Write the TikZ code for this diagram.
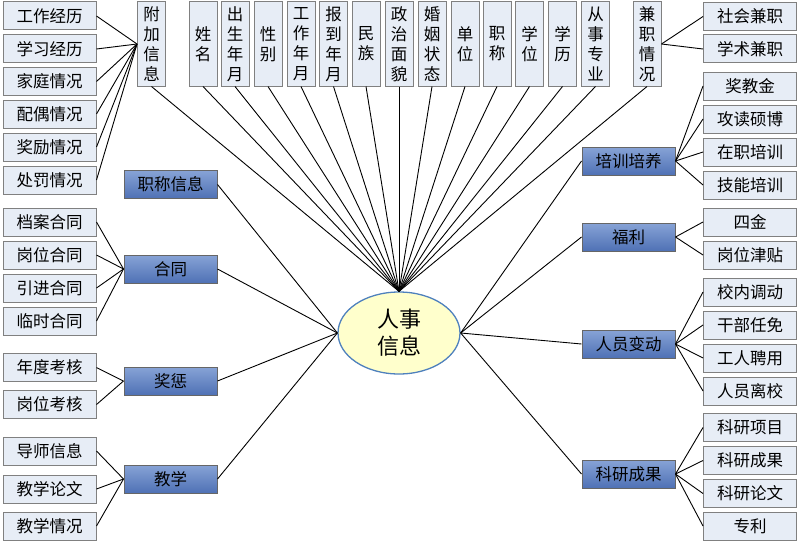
\documentclass[tikz,border=0pt]{standalone}
\usepackage{fontspec}
\setmainfont{Noto Sans CJK SC}
\usetikzlibrary{shapes.geometric}
\definecolor{lfill}{HTML}{E7EDF6}
\definecolor{bord}{HTML}{808080}
\definecolor{dtop}{HTML}{87A3D6}
\definecolor{dmid}{HTML}{BCCEEA}
\definecolor{dbot}{HTML}{4F71B5}
\definecolor{elfill}{HTML}{FFFFCC}
\definecolor{elbord}{HTML}{4F81BD}
\tikzset{
  lbox/.style={draw=bord, fill=lfill, line width=1pt, minimum width=93pt, minimum height=28pt, inner sep=0pt, font=\fontsize{16.5}{20}\selectfont},
  vbox/.style={draw=bord, fill=lfill, line width=1pt, minimum width=28pt, minimum height=84pt, inner sep=0pt, align=center, font=\fontsize{16.5}{20}\selectfont},
  dbox/.style={draw=bord!80!black, top color=dtop, middle color=dmid, bottom color=dbot, line width=1pt, minimum width=93pt, minimum height=28pt, inner sep=0pt, font=\fontsize{16.5}{20}\selectfont},
  link/.style={draw=black, line width=0.9pt},
}
\begin{document}
\begin{tikzpicture}[x=1pt,y=-1pt]
\useasboundingbox (0,0) rectangle (800,543);
% center
\node[ellipse, draw=elbord, fill=elfill, line width=1.3pt, minimum width=122pt, minimum height=82pt, inner sep=0pt, align=center, font=\fontsize{22}{27}\selectfont] (el) at (399,333) {人事\\信息};
% top vertical boxes
\node[vbox] (fj) at (151.5,44) {附\\加\\信\\息};
\node[vbox] (t1) at (203,44) {姓\\名};
\node[vbox] (t2) at (235,44) {出\\生\\年\\月};
\node[vbox] (t3) at (268,44) {性\\别};
\node[vbox] (t4) at (301,44) {工\\作\\年\\月};
\node[vbox] (t5) at (333.5,44) {报\\到\\年\\月};
\node[vbox] (t6) at (366,44) {民\\族};
\node[vbox] (t7) at (399,44) {政\\治\\面\\貌};
\node[vbox] (t8) at (432,44) {婚\\姻\\状\\态};
\node[vbox] (t9) at (465,44) {单\\位};
\node[vbox] (t10) at (497,44) {职\\称};
\node[vbox] (t11) at (529.5,44) {学\\位};
\node[vbox] (t12) at (562.5,44) {学\\历};
\node[vbox] (t13) at (595.5,44) {从\\事\\专\\业};
\node[vbox] (jz) at (647,44) {兼\\职\\情\\况};
\foreach \n in {fj,t1,t2,t3,t4,t5,t6,t7,t8,t9,t10,t11,t12,t13,jz}
  \draw[link] (\n.south) -- (el.north);
% left top list
\node[lbox] (a1) at (49.5,16) {工作经历};
\node[lbox] (a2) at (49.5,49) {学习经历};
\node[lbox] (a3) at (49.5,81.5) {家庭情况};
\node[lbox] (a4) at (49.5,114) {配偶情况};
\node[lbox] (a5) at (49.5,147) {奖励情况};
\node[lbox] (a6) at (49.5,180) {处罚情况};
\foreach \n in {a1,a2,a3,a4,a5,a6}
  \draw[link] (\n.east) -- (fj.west);
% left dark boxes
\node[dbox] (zc) at (170.5,184.5) {职称信息};
\node[dbox] (ht) at (170.5,269) {合同};
\node[dbox] (jc) at (170.5,381) {奖惩};
\node[dbox] (jx) at (170.5,479) {教学};
\foreach \n in {zc,ht,jc,jx}
  \draw[link] (\n.east) -- (el.west);
\node[lbox] (h1) at (49.5,222) {档案合同};
\node[lbox] (h2) at (49.5,255) {岗位合同};
\node[lbox] (h3) at (49.5,288) {引进合同};
\node[lbox] (h4) at (49.5,321) {临时合同};
\foreach \n in {h1,h2,h3,h4}
  \draw[link] (\n.east) -- (ht.west);
\node[lbox] (k1) at (49.5,367.5) {年度考核};
\node[lbox] (k2) at (49.5,404.5) {岗位考核};
\foreach \n in {k1,k2}
  \draw[link] (\n.east) -- (jc.west);
\node[lbox] (e1) at (49.5,451) {导师信息};
\node[lbox] (e2) at (49.5,489) {教学论文};
\node[lbox] (e3) at (49.5,526) {教学情况};
\foreach \n in {e1,e2,e3}
  \draw[link] (\n.east) -- (jx.west);
% right side
\node[lbox] (s1) at (750,16.5) {社会兼职};
\node[lbox] (s2) at (750,49) {学术兼职};
\foreach \n in {s1,s2}
  \draw[link] (jz.east) -- (\n.west);
\node[dbox] (px) at (628.5,161) {培训培养};
\node[dbox] (fl) at (628.5,237) {福利};
\node[dbox] (ry) at (628.5,344) {人员变动};
\node[dbox] (ky) at (628.5,474) {科研成果};
\foreach \n in {px,fl,ry,ky}
  \draw[link] (\n.west) -- (el.east);
\node[lbox] (p1) at (750,86) {奖教金};
\node[lbox] (p2) at (750,119) {攻读硕博};
\node[lbox] (p3) at (750,152) {在职培训};
\node[lbox] (p4) at (750,185) {技能培训};
\foreach \n in {p1,p2,p3,p4}
  \draw[link] (px.east) -- (\n.west);
\node[lbox] (f1) at (750,222) {四金};
\node[lbox] (f2) at (750,255) {岗位津贴};
\foreach \n in {f1,f2}
  \draw[link] (fl.east) -- (\n.west);
\node[lbox] (r1) at (750,292) {校内调动};
\node[lbox] (r2) at (750,325) {干部任免};
\node[lbox] (r3) at (750,358) {工人聘用};
\node[lbox] (r4) at (750,391) {人员离校};
\foreach \n in {r1,r2,r3,r4}
  \draw[link] (ry.east) -- (\n.west);
\node[lbox] (y1) at (750,427.5) {科研项目};
\node[lbox] (y2) at (750,460.5) {科研成果};
\node[lbox] (y3) at (750,493.5) {科研论文};
\node[lbox] (y4) at (750,526) {专利};
\foreach \n in {y1,y2,y3,y4}
  \draw[link] (ky.east) -- (\n.west);
\end{tikzpicture}
\end{document}
